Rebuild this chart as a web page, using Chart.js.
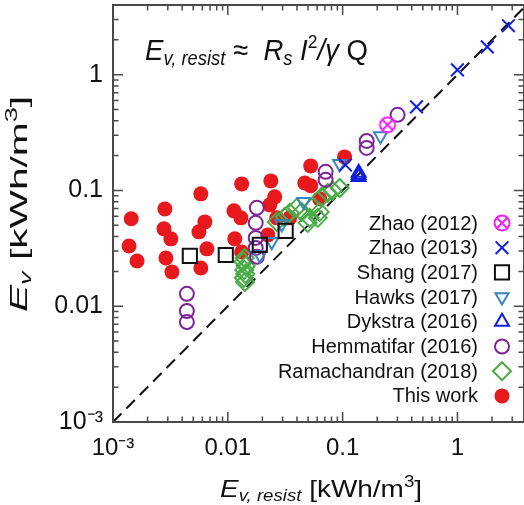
<!DOCTYPE html>
<html>
<head>
<meta charset="UTF-8">
<title>E_v vs E_v,resist</title>
<script src="https://cdn.jsdelivr.net/npm/chart.js@4.4.1/dist/chart.umd.min.js"></script>
<style>
  body { margin: 0; background: #fff; }
  #wrap { width: 524px; height: 505px; position: relative; }
</style>
</head>
<body>
<div id="wrap"><canvas id="c"></canvas></div>
<script>
// data, [E_v,resist, E_v] in kWh/m3
const zhao2012 = [[0.246, 0.369]];
const zhao2013 = [[0.106, 0.166], [0.44, 0.528], [1.0, 1.10], [1.82, 1.74], [2.78, 2.65]];
const shang2017 = [[0.00467, 0.0272], [0.0096, 0.0277], [0.019, 0.0339], [0.0319, 0.0448]];
const hawks2017 = [[0.019, 0.0277], [0.0241, 0.036], [0.0295, 0.0514], [0.0458, 0.0797], [0.0942, 0.170], [0.214, 0.296]];
const dykstra2016 = [[0.138, 0.142], [0.138, 0.136], [0.138, 0.131]];
const hemmatifar2016 = [[0.0044, 0.0128], [0.0044, 0.0091], [0.0044, 0.0073], [0.0179, 0.0708], [0.0175, 0.0525],
  [0.0175, 0.0389], [0.0175, 0.0319], [0.0179, 0.0267], [0.0711, 0.145], [0.0711, 0.1235], [0.162, 0.268],
  [0.162, 0.233], [0.301, 0.450]];
const ramachandran2018 = [[0.0140, 0.0261], [0.0137, 0.0242], [0.0143, 0.0223], [0.0139, 0.0206], [0.0142, 0.0190],
  [0.0138, 0.0176], [0.0141, 0.0162], [0.0267, 0.0535], [0.0313, 0.0591], [0.0346, 0.064], [0.0398, 0.0708],
  [0.044, 0.0653], [0.0516, 0.058], [0.0548, 0.0722], [0.0607, 0.058], [0.0631, 0.0653], [0.0656, 0.0881],
  [0.0741, 0.0953], [0.0818, 0.0993], [0.0942, 0.105], [0.0496, 0.0525]];
const thisWork = [[0.00144, 0.0569], [0.00138, 0.0331], [0.00162, 0.0246], [0.00283, 0.0693], [0.00278, 0.0466],
  [0.00319, 0.0382], [0.00289, 0.0261], [0.00326, 0.0198], [0.00582, 0.0935], [0.00631, 0.0535], [0.0056, 0.0439],
  [0.00657, 0.0313], [0.00582, 0.0214], [0.0132, 0.114], [0.0113, 0.0667], [0.0130, 0.058], [0.0115, 0.0382],
  [0.0132, 0.0294], [0.0237, 0.121], [0.0256, 0.0881], [0.0232, 0.0751], [0.0468, 0.116], [0.0527, 0.110],
  [0.0527, 0.163], [0.104, 0.195], [0.0631, 0.0846], [0.0267, 0.058], [0.0346, 0.058], [0.0223, 0.0413]];
const parity = [[0.001, 0.001], [4, 4]];
const decades = [0.001, 0.01, 0.1, 1];
const decadeLabels = ['10\u207B\u00B3', '0.01', '0.1', '1'];

const FONT = '"Liberation Sans", Arial, sans-serif';

// crossed circle marker for Zhao (2012)
function crossedCircle(color) {
  const cv = document.createElement('canvas');
  cv.width = 20; cv.height = 20;
  const g = cv.getContext('2d');
  g.strokeStyle = color; g.lineWidth = 2;
  g.beginPath(); g.arc(10, 10, 7.5, 0, Math.PI * 2); g.stroke();
  g.beginPath(); g.moveTo(5, 5); g.lineTo(15, 15); g.moveTo(15, 5); g.lineTo(5, 15); g.stroke();
  return cv;
}
const zhaoMark = crossedCircle('#f020f0');

const pts = arr => arr.map(p => ({ x: p[0], y: p[1] }));
const none = 'rgba(0,0,0,0)';

const datasets = [
  { label: 'Zhao (2012)', data: pts(zhao2012), pointStyle: zhaoMark, pointRadius: 8, borderColor: '#f020f0', backgroundColor: none, borderWidth: 2 },
  { label: 'Zhao (2013)', data: pts(zhao2013), pointStyle: 'crossRot', pointRadius: 9, borderColor: '#1020e0', backgroundColor: none, borderWidth: 2 },
  { label: 'Shang (2017)', data: pts(shang2017), pointStyle: 'rect', pointRadius: 10, borderColor: '#111', backgroundColor: none, borderWidth: 2 },
  { label: 'Hawks (2017)', data: pts(hawks2017), pointStyle: 'triangle', rotation: 180, pointRadius: 7.5, borderColor: '#3a84c0', backgroundColor: none, borderWidth: 2 },
  { label: 'Dykstra (2016)', data: pts(dykstra2016), pointStyle: 'triangle', pointRadius: 8, borderColor: '#1020e0', backgroundColor: none, borderWidth: 2 },
  { label: 'Hemmatifar (2016)', data: pts(hemmatifar2016), pointStyle: 'circle', pointRadius: 7, borderColor: '#7e2596', backgroundColor: none, borderWidth: 2 },
  { label: 'Ramachandran (2018)', data: pts(ramachandran2018), pointStyle: 'rectRot', pointRadius: 9, borderColor: '#4aab48', backgroundColor: none, borderWidth: 2 },
  { label: 'This work', data: pts(thisWork), pointStyle: 'circle', pointRadius: 7.5, borderColor: '#e8191c', backgroundColor: '#e8191c', borderWidth: 0 },
  { label: 'parity', type: 'line', data: pts(parity), borderColor: '#111', borderWidth: 2, borderDash: [12, 7], pointRadius: 0, fill: false }
];

// draws text runs with sub/superscripts, stretched to a target width
function runs(ctx, list, x, y, target) {
  let w = 0;
  list.forEach(r => { ctx.font = r.f; w += ctx.measureText(r.t).width; });
  const k = target ? target / w : 1;
  ctx.save();
  ctx.translate(x, y);
  ctx.scale(k, 1);
  let cx = 0;
  list.forEach(r => {
    ctx.font = r.f;
    ctx.fillText(r.t, cx, r.dy || 0);
    cx += ctx.measureText(r.t).width;
  });
  ctx.restore();
}

const decor = {
  id: 'decor',
  afterDraw(chart) {
    const { ctx, chartArea: a, scales: { x, y } } = chart;
    ctx.save();
    // frame
    ctx.strokeStyle = '#4a4a4a';
    ctx.lineWidth = 2;
    ctx.strokeRect(a.left, a.top, a.right - a.left, a.bottom - a.top);
    // inward ticks on all sides
    ctx.lineWidth = 1.5;
    ctx.beginPath();
    decades.forEach(d => {
      for (let m = 1; m < 10; m++) {
        const v = m * d, len = m === 1 ? 10 : 5.5;
        if (v >= x.min && v <= x.max) {
          const px = x.getPixelForValue(v);
          ctx.moveTo(px, a.bottom); ctx.lineTo(px, a.bottom - len);
          ctx.moveTo(px, a.top); ctx.lineTo(px, a.top + len);
        }
        if (v >= y.min && v <= y.max) {
          const py = y.getPixelForValue(v);
          ctx.moveTo(a.left, py); ctx.lineTo(a.left + len, py);
          ctx.moveTo(a.right, py); ctx.lineTo(a.right - len, py);
        }
      }
    });
    ctx.stroke();

    ctx.fillStyle = '#111';
    ctx.textBaseline = 'alphabetic';
    ctx.textAlign = 'left';
    // formula inside the plot
    runs(ctx, [
      { t: 'E', f: 'italic 30px ' + FONT },
      { t: 'v, resist', f: 'italic 20px ' + FONT, dy: 5 },
      { t: ' \u2248  ', f: '30px ' + FONT },
      { t: 'R', f: 'italic 30px ' + FONT },
      { t: 's', f: 'italic 20px ' + FONT, dy: 5 },
      { t: ' I', f: 'italic 30px ' + FONT },
      { t: '2', f: '19px ' + FONT, dy: -12 },
      { t: '/', f: 'italic 30px ' + FONT },
      { t: '\u03B3 ', f: 'italic 30px ' + FONT },
      { t: 'Q', f: '30px ' + FONT }
    ], 145, 60, 223);

    // x axis title
    runs(ctx, [
      { t: 'E', f: 'italic 24px ' + FONT },
      { t: 'v, resist', f: 'italic 16px ' + FONT, dy: 4 },
      { t: ' [kWh/m', f: '24px ' + FONT },
      { t: '3', f: '16px ' + FONT, dy: -10 },
      { t: ']', f: '24px ' + FONT }
    ], 220, 497, 202);

    // y axis title
    ctx.save();
    ctx.translate(27, 312);
    ctx.rotate(-Math.PI / 2);
    runs(ctx, [
      { t: 'E', f: 'italic 24px ' + FONT },
      { t: 'v', f: 'italic 16px ' + FONT, dy: 4 },
      { t: ' [kWh/m', f: '24px ' + FONT },
      { t: '3', f: '16px ' + FONT, dy: -10 },
      { t: ']', f: '24px ' + FONT }
    ], 0, 0, 216);
    ctx.restore();

    // legend: right aligned text, marker on the right
    ctx.font = '20px ' + FONT;
    ctx.textAlign = 'right';
    ctx.textBaseline = 'middle';
    chart.data.datasets.slice(0, 8).forEach((ds, i) => {
      const ly = 223 + i * 24.7;
      ctx.fillStyle = '#111';
      ctx.fillText(ds.label, 478, ly + 1);
      ctx.strokeStyle = ds.borderColor;
      ctx.fillStyle = ds.backgroundColor;
      ctx.lineWidth = ds.borderWidth;
      Chart.helpers.drawPoint(ctx, {
        pointStyle: ds.pointStyle, radius: ds.pointRadius, rotation: ds.rotation || 0, borderWidth: ds.borderWidth
      }, 502, ly);
    });
    ctx.restore();
  }
};

// only the decades get a label
const tickLabel = v => {
  const i = decades.findIndex(d => Math.abs(Math.log10(v) - Math.log10(d)) < 1e-6);
  return i >= 0 ? decadeLabels[i] : null;
};

new Chart(document.getElementById('c'), {
  type: 'scatter',
  data: { datasets },
  options: {
    responsive: true,
    maintainAspectRatio: false,
    animation: false,
    layout: { autoPadding: false, padding: { top: 5, right: 0, left: 0, bottom: 0 } },
    plugins: { legend: { display: false }, tooltip: { enabled: false } },
    scales: {
      x: {
        type: 'logarithmic', min: 0.001, max: 3.8,
        grid: { display: false, drawTicks: false },
        border: { display: false },
        ticks: { autoSkip: false, maxRotation: 0, padding: 12, color: '#111', font: { size: 24, family: FONT }, callback: tickLabel },
        afterFit: s => { s.height = 83; s.paddingLeft = 0; s.paddingRight = 0; }
      },
      y: {
        type: 'logarithmic', min: 0.001, max: 4,
        grid: { display: false, drawTicks: false },
        border: { display: false },
        ticks: { autoSkip: false, padding: 10, color: '#111', font: { size: 25, family: FONT }, callback: tickLabel },
        afterFit: s => { s.width = 113; s.paddingTop = 0; s.paddingBottom = 0; }
      }
    }
  },
  plugins: [decor]
});
</script>
</body>
</html>
